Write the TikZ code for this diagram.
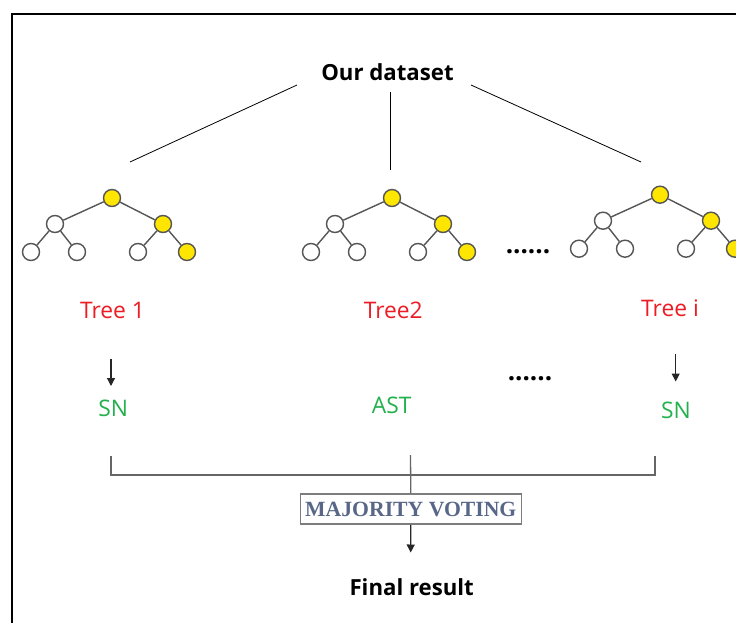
\documentclass[tikz,border=0pt]{standalone}
\usepackage{fontspec}
\setmainfont{Open Sans}
\newfontfamily\votefont{Liberation Serif}
\usetikzlibrary{arrows.meta}
\definecolor{treered}{RGB}{237,28,36}
\definecolor{treegreen}{RGB}{34,177,76}
\definecolor{nodeyellow}{RGB}{255,230,0}
\definecolor{edgegray}{RGB}{85,85,85}
\definecolor{votetext}{RGB}{88,103,135}
\definecolor{boxgray}{RGB}{125,125,125}
\begin{document}
\begin{tikzpicture}[x=1pt,y=-1pt,
  tn/.style={circle,draw=edgegray,line width=1.4pt,fill=white,minimum size=17pt,inner sep=0pt},
  yel/.style={fill=nodeyellow},
  edge/.style={draw=edgegray,line width=1.4pt},
  thinline/.style={draw=black,line width=0.8pt},
  brk/.style={draw=edgegray!90,line width=1.3pt},
  arr/.style={draw=black!85,line width=1.2pt,-{Triangle[width=8pt,length=8pt]}},
  lbl/.style={anchor=base,inner sep=0pt,font=\fontsize{22.8}{26}\selectfont},
  ttl/.style={anchor=base,inner sep=0pt,font=\bfseries\fontsize{22.2}{25}\selectfont},
  dots/.style={anchor=base,inner sep=0pt,font=\bfseries\fontsize{26}{28}\selectfont}]
\useasboundingbox (0,0) rectangle (736,623);
\clip (0,0) rectangle (736,623);
\fill[white] (0,0) rectangle (736,623);
% frame
\draw[black,line width=2.5pt] (12,623) -- (12,14) -- (740,14);
% title
\node[ttl] (title) at (387.5,81) {Our dataset};
\coordinate (ta) at (297,85);
\coordinate (tb) at (390,92);
\coordinate (tc) at (471,85);
\coordinate (ea) at (130,162);
\coordinate (eb) at (390,170);
\coordinate (ec) at (641,162);
\draw[thinline] (ta) -- (ea);
\draw[thinline] (tb) -- (eb);
\draw[thinline] (tc) -- (ec);
% trees
\foreach \k/\dx/\dy in {1/0/0,2/280/0,3/548/-3.3}{
\begin{scope}[shift={(\dx,\dy)}]
 \node[tn,yel] (r\k) at (112,198) {};
 \node[tn] (l\k) at (55,224) {};
 \node[tn,yel] (m\k) at (163,224) {};
 \node[tn] (a\k) at (31,252) {};
 \node[tn] (b\k) at (77,252) {};
 \node[tn] (c\k) at (138,252) {};
 \node[tn,yel] (d\k) at (187,252) {};
 \draw[edge] (r\k)--(l\k) (r\k)--(m\k) (l\k)--(a\k) (l\k)--(b\k) (m\k)--(c\k) (m\k)--(d\k);
\end{scope}}
\node[dots] (dotsA) at (528,253) {......};
\node[dots] (dotsB) at (530,380) {......};
% labels
\node[lbl,text=treered] (tree1) at (112.5,318.3) {Tree 1};
\node[lbl,text=treered] (tree2) at (393.3,318.3) {Tree2};
\node[lbl,text=treered] (treei) at (670,316.5) {Tree i};
\coordinate (a1s) at (111,359);
\coordinate (a3s) at (675.7,354);
\node[lbl,text=treegreen] (sn1) at (113.3,416) {SN};
\node[lbl,text=treegreen] (ast) at (391.7,413.3) {AST};
\node[lbl,text=treegreen] (sn3) at (676,418) {SN};
\coordinate (a1e) at (111,386);
\coordinate (a3e) at (675.7,381.5);
\draw[arr] (a1s) -- (a1e);
\draw[arr] (a3s) -- (a3e);
% bracket
\coordinate (bl) at (111,456);
\coordinate (br) at (655,456);
\coordinate (bm) at (410.5,455);
\draw[brk] (bl) -- (111,475) -- (655,475) -- (br);
\node[draw=boxgray,line width=1.5pt,fill=white,minimum width=221pt,minimum height=30pt,inner sep=0pt,
  text=votetext,font=\votefont\bfseries\fontsize{21.7}{23}\selectfont] (vote) at (410.8,509.2) {MAJORITY VOTING};
\draw[brk] (bm) -- (vote.north);
\coordinate (fe) at (410.7,552.5);
\draw[arr] (vote.south) -- (fe);
\node[ttl] (final) at (411.7,595) {Final result};
\end{tikzpicture}
\end{document}
